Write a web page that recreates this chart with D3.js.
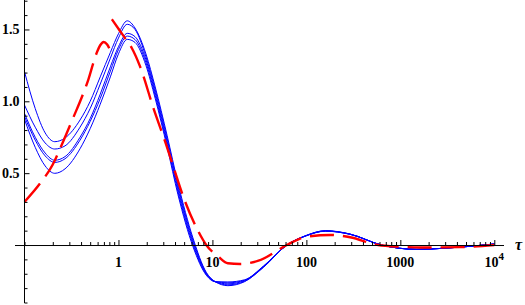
<!DOCTYPE html>
<html>
<head>
<meta charset="utf-8">
<script src="https://cdn.jsdelivr.net/npm/d3@7"></script>
<style>
  html, body { margin: 0; padding: 0; background: #fff; }
  svg { display: block; }
  .lbl { font-family: "Liberation Serif", "Times New Roman", serif; font-size: 14px; font-weight: bold; fill: #000; }
  .tau { font-family: "Liberation Serif", "Times New Roman", serif; font-size: 16px; font-style: italic; font-weight: bold; fill: #000; }
</style>
</head>
<body>
<svg id="chart" width="525" height="305"></svg>
<script>
// sample points shared by the five blue curves
const blueTau = [0.1, 0.13, 0.166, 0.21, 0.27, 0.39, 0.5, 0.64, 0.82, 1, 1.24, 1.5, 1.96, 2.46, 3.3, 4.3,
  6.2, 8.6, 10.7, 14.6, 22, 35, 62, 97, 160, 290, 630, 1500, 3000, 10000];
const blue1 = [1.206, 0.95, 0.78, 0.719, 0.745, 0.87, 1.0, 1.17, 1.34, 1.47, 1.56, 1.51, 1.33, 1.10, 0.76, 0.43,
  0.05, -0.19, -0.255, -0.283, -0.255, -0.155, 0.0, 0.064, 0.10, 0.077, 0.0, -0.03, -0.022, 0.007];
const blue2 = [0.974, 0.82, 0.71, 0.668, 0.69, 0.82, 0.95, 1.12, 1.30, 1.44, 1.536, 1.50, 1.31, 1.08, 0.74, 0.41,
  0.035, -0.195, -0.255, -0.277, -0.252, -0.153, 0.0, 0.063, 0.099, 0.076, 0.0, -0.03, -0.022, 0.007];
const blue3 = [0.916, 0.75, 0.64, 0.59, 0.615, 0.75, 0.88, 1.05, 1.24, 1.38, 1.473, 1.45, 1.29, 1.06, 0.72, 0.39,
  0.02, -0.20, -0.255, -0.270, -0.248, -0.15, 0.0, 0.062, 0.098, 0.076, 0.0, -0.03, -0.022, 0.007];
const blue4 = [0.895, 0.73, 0.62, 0.575, 0.60, 0.73, 0.86, 1.02, 1.21, 1.36, 1.454, 1.43, 1.27, 1.04, 0.70, 0.37,
  0.005, -0.205, -0.255, -0.263, -0.245, -0.148, 0.0, 0.062, 0.097, 0.075, 0.0, -0.03, -0.022, 0.007];
const blue5 = [0.875, 0.68, 0.55, 0.499, 0.53, 0.67, 0.81, 0.98, 1.17, 1.33, 1.431, 1.41, 1.25, 1.02, 0.68, 0.35,
  -0.01, -0.21, -0.255, -0.257, -0.242, -0.146, 0.0, 0.061, 0.096, 0.075, 0.0, -0.03, -0.022, 0.007];

// red dashed curve, drawn in two pieces (it jumps near tau = 0.84)
const redRiseTau = [0.1, 0.147, 0.2, 0.25, 0.332, 0.408, 0.48, 0.542, 0.593, 0.639, 0.696, 0.758, 0.83];
const redRise = [0.30, 0.43, 0.56, 0.70, 0.89, 1.03, 1.155, 1.27, 1.345, 1.39, 1.413, 1.395, 1.345];
const redFallTau = [0.851, 1.0, 1.18, 1.39, 1.70, 2.36, 3.14, 3.84, 4.9, 7.1, 8.6, 11.6, 14.6, 19.7, 30.9,
  62, 100, 179, 292, 580, 1000, 1620, 4300, 10000];
const redFall = [1.571, 1.505, 1.438, 1.369, 1.241, 0.951, 0.719, 0.545, 0.336, 0.093, 0.0, -0.081, -0.127, -0.132, -0.109,
  0.0, 0.058, 0.07, 0.054, 0.0, -0.012, -0.017, -0.015, 0.0];

const xMajor = [1, 10, 100, 1000, 10000];
const xLabels = ['1', '10', '100', '1000', '10^4'];
const yMajor = [0.5, 1, 1.5];
const yLabels = ['0.5', '1.0', '1.5'];

const svg = d3.select('#chart');
const x = d3.scaleLog().domain([0.1, 1e4]).range([24.5, 494.3]);
const y = d3.scaleLinear().domain([-0.4, 1.705]).range([302.5, 0]);

const zip = (ts, vs) => ts.map((t, i) => [t, vs[i]]);

// plot area clip (padding beyond the axes like the original)
svg.append('clipPath').attr('id', 'clip')
  .append('rect').attr('x', 15).attr('y', 0).attr('width', 490).attr('height', 303);

const line = d3.line()
  .x((d) => x(d[0]))
  .y((d) => y(d[1]))
  .curve(d3.curveMonotoneX);

const curves = svg.append('g').attr('clip-path', 'url(#clip)');

// axes
const xMinor = x.ticks().filter((t) => !xMajor.some((m) => Math.abs(m - t) < 1e-9));
const yMinor = y.ticks(20).filter((t) => !yMajor.some((m) => Math.abs(m - t) < 1e-9));

const axes = svg.append('g');

axes.append('line')
  .attr('x1', 15).attr('x2', 504)
  .attr('y1', y(0) + 0.5).attr('y2', y(0) + 0.5)
  .attr('stroke', '#000');
axes.append('line')
  .attr('x1', x(0.1)).attr('x2', x(0.1))
  .attr('y1', 0).attr('y2', 303)
  .attr('stroke', '#000');

const gxMinor = axes.append('g').attr('transform', `translate(0,${y(0)})`)
  .call(d3.axisTop(x).tickValues(xMinor).tickSize(3).tickSizeOuter(0).tickFormat(''));
const gxMajor = axes.append('g').attr('transform', `translate(0,${y(0)})`)
  .call(d3.axisTop(x).tickValues(xMajor).tickSize(5).tickSizeOuter(0).tickFormat(''));
const gyMinor = axes.append('g').attr('transform', `translate(${x(0.1)},0)`)
  .call(d3.axisRight(y).tickValues(yMinor).tickSize(3).tickSizeOuter(0).tickFormat(''));
const gyMajor = axes.append('g').attr('transform', `translate(${x(0.1)},0)`)
  .call(d3.axisRight(y).tickValues(yMajor).tickSize(5).tickSizeOuter(0).tickFormat(''));
[gxMinor, gxMajor, gyMinor, gyMajor].forEach((g) => g.select('.domain').remove());

// y labels
axes.selectAll('text.ylab')
  .data(yMajor)
  .join('text')
  .attr('class', 'lbl ylab')
  .attr('x', x(0.1) - 5)
  .attr('y', (d) => y(d) + 4.5)
  .attr('text-anchor', 'end')
  .text((d, i) => yLabels[i]);

// x labels
const xl = axes.selectAll('text.xlab')
  .data(xMajor)
  .join('text')
  .attr('class', 'lbl xlab')
  .attr('x', (d) => x(d))
  .attr('y', 266.5)
  .attr('text-anchor', 'middle');
xl.each(function (d, i) {
  const parts = xLabels[i].split('^');
  const t = d3.select(this);
  t.append('tspan').text(parts[0]);
  if (parts[1]) {
    t.append('tspan').attr('dy', -7).attr('font-size', '11px').text(parts[1]);
  }
});

axes.append('text')
  .attr('class', 'tau')
  .attr('x', 515)
  .attr('y', 250)
  .text('τ');

// curves
[blue1, blue2, blue3, blue4, blue5].forEach((vals) => {
  curves.append('path')
    .attr('d', line(zip(blueTau, vals)))
    .attr('fill', 'none')
    .attr('stroke', '#0000ff')
    .attr('stroke-width', 1);
});

[[redRiseTau, redRise], [redFallTau, redFall]].forEach(([ts, vs]) => {
  curves.append('path')
    .attr('d', line(zip(ts, vs)))
    .attr('fill', 'none')
    .attr('stroke', '#ff0000')
    .attr('stroke-width', 2.4)
    .attr('stroke-dasharray', '24,9');
});
</script>
</body>
</html>
